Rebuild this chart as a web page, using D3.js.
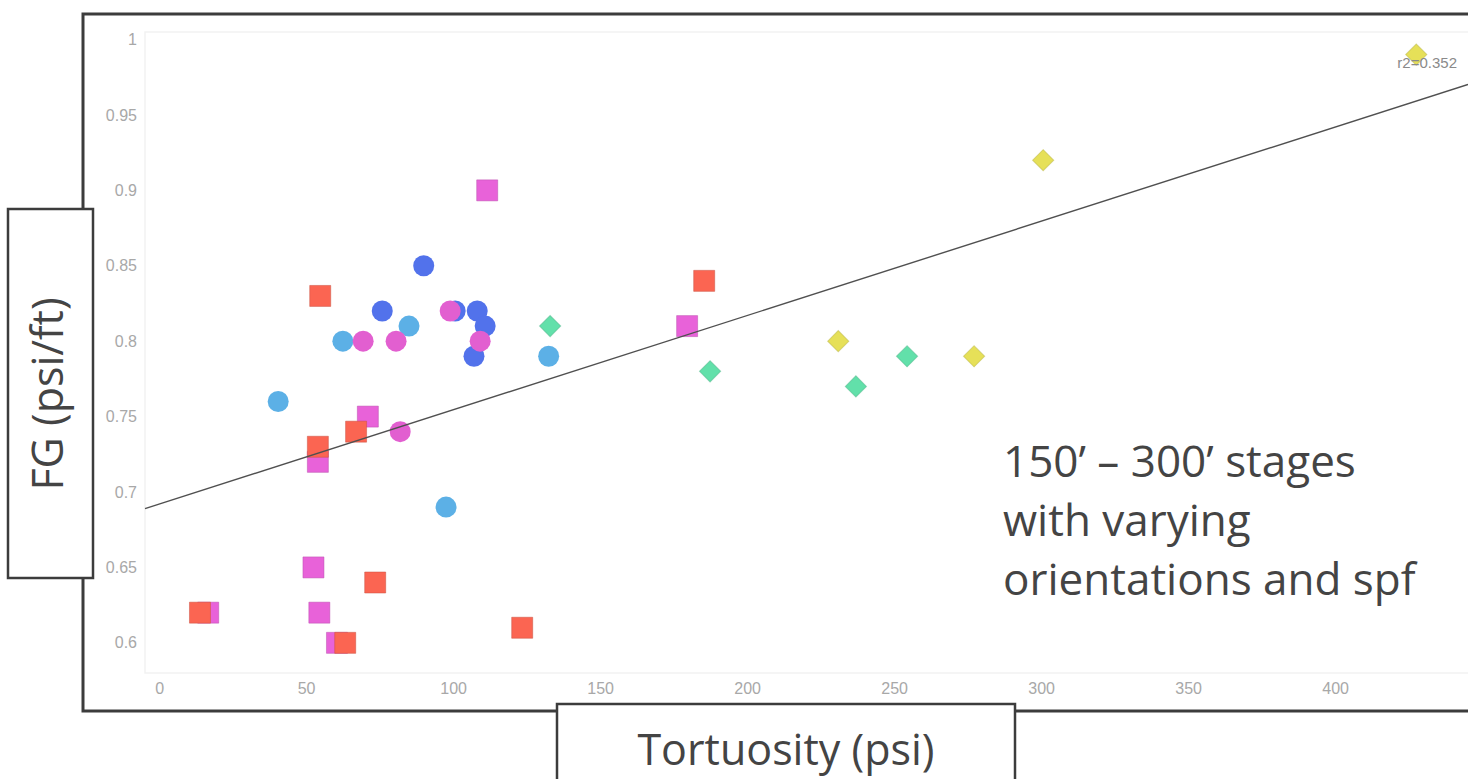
<html><head>
<script src="https://cdnjs.cloudflare.com/ajax/libs/d3/7.8.5/d3.min.js"></script>
<style>
body {
    margin: 0;
    background: white;
    overflow: hidden;
}
.tick text {
    font-family: "Liberation Sans", Arial, sans-serif;
    font-size: 16px;
    fill: #a8a8a8;
}
.title {
    font-family: "Open Sans", sans-serif;
    font-size: 43px;
    fill: #444;
}
.note {
    font-family: "Open Sans", sans-serif;
    font-size: 44px;
    fill: #444;
}
</style>
</head>
<body>
<div id="chart"></div>

<script>
// tick labels
const xTicks = [0, 50, 100, 150, 200, 250, 300, 350, 400];
const yTicks = [0.6, 0.65, 0.7, 0.75, 0.8, 0.85, 0.9, 0.95, 1];

// series: [tortuosity, FG]
const lightBlueCircles = [[40.5, 0.76], [62.5, 0.80], [85, 0.81], [97.6, 0.69], [132.5, 0.79]];
const blueCircles = [[90, 0.85], [75.9, 0.82], [100.7, 0.82], [108.2, 0.82], [110.9, 0.81], [107.1, 0.79]];
const pinkCircles = [[69.4, 0.80], [80.6, 0.80], [82, 0.74], [99, 0.82], [109.2, 0.80]];
const pinkSquares = [[111.6, 0.90], [179.6, 0.81], [71, 0.75], [54, 0.72], [52.5, 0.65], [54.5, 0.62], [60.5, 0.60], [16.7, 0.62]];
const redSquares = [[54.8, 0.83], [185.4, 0.84], [54, 0.73], [67, 0.74], [73.5, 0.64], [123.5, 0.61], [13.9, 0.62], [63.3, 0.60]];
const greenDiamonds = [[133, 0.81], [187.4, 0.78], [237, 0.77], [254.4, 0.79]];
const yellowDiamonds = [[231, 0.80], [277.2, 0.79], [300.7, 0.92], [427.6, 0.99]];

// trend line
const trendSlope = 0.000625;
const trendIntercept = 0.692;
const r2Label = "r2=0.352";

const noteLines = ["150\u2019 \u2013 300\u2019 stages", "with varying", "orientations and spf"];

const width = 1468;
const height = 779;

const svg = d3.select("#chart")
    .append("svg")
    .attr("width", width)
    .attr("height", height);

const x = d3.scaleLinear()
    .domain([-4.8, 445.2])
    .range([145, 1468]);

const y = d3.scaleLinear()
    .domain([0.58, 1.005])
    .range([673, 32]);

// outer frame
svg.append("rect")
    .attr("x", 83)
    .attr("y", 14)
    .attr("width", 1400)
    .attr("height", 697)
    .attr("fill", "white")
    .attr("stroke", "#3c3c3c")
    .attr("stroke-width", 3);

// faint plot area border
svg.append("rect")
    .attr("x", 145)
    .attr("y", 32)
    .attr("width", 1340)
    .attr("height", 641)
    .attr("fill", "none")
    .attr("stroke", "#f2f2f2")
    .attr("stroke-width", 1.5);

// axes
const xAxis = svg.append("g")
    .attr("transform", "translate(0,673)")
    .call(d3.axisBottom(x).tickValues(xTicks).tickSize(0).tickPadding(10));
xAxis.select(".domain").remove();

const yAxis = svg.append("g")
    .attr("transform", "translate(145,0)")
    .call(d3.axisLeft(y).tickValues(yTicks).tickSize(0).tickPadding(8).tickFormat(d3.format("~g")));
yAxis.select(".domain").remove();

svg.selectAll(".tick text")
    .attr("font-family", null)
    .attr("font-size", null);

// markers
function circles(data, color) {
    svg.append("g").selectAll("circle")
        .data(data)
        .join("circle")
        .attr("cx", d => x(d[0]))
        .attr("cy", d => y(d[1]))
        .attr("r", 10.5)
        .attr("fill", color);
}

function squares(data, color, size, angle) {
    svg.append("g").selectAll("path")
        .data(data)
        .join("path")
        .attr("d", d3.symbol(d3.symbolSquare, size))
        .attr("transform", d => `translate(${x(d[0])},${y(d[1])}) rotate(${angle})`)
        .attr("fill", color)
        .attr("stroke", d3.color(color).darker(0.6))
        .attr("stroke-opacity", 0.5)
        .attr("stroke-width", 1);
}

circles(lightBlueCircles, "#5cb0e6");
circles(blueCircles, "#5272eb");
circles(pinkCircles, "#e25fd0");
squares(pinkSquares, "#e862d9", 441, 0);
squares(redSquares, "#fb6552", 441, 0);
squares(greenDiamonds, "#62e0aa", 225, 45);
squares(yellowDiamonds, "#e6e058", 225, 45);

// trend line
const xd = x.domain();
svg.append("line")
    .attr("x1", x(xd[0]))
    .attr("y1", y(trendIntercept + trendSlope * xd[0]))
    .attr("x2", x(xd[1]))
    .attr("y2", y(trendIntercept + trendSlope * xd[1]))
    .attr("stroke", "#505050")
    .attr("stroke-width", 1.4);

svg.append("text")
    .attr("x", 1457)
    .attr("y", 68)
    .attr("text-anchor", "end")
    .attr("font-family", "Liberation Sans, Arial, sans-serif")
    .attr("font-size", 15)
    .attr("fill", "#8a8a8a")
    .text(r2Label);

// annotation
svg.append("g").selectAll("text")
    .data(noteLines)
    .join("text")
    .attr("class", "note")
    .attr("x", 1003)
    .attr("y", (d, i) => 477 + i * 59)
    .text(d => d);

// axis title boxes
svg.append("rect")
    .attr("x", 8)
    .attr("y", 209)
    .attr("width", 85)
    .attr("height", 369)
    .attr("fill", "white")
    .attr("stroke", "#3c3c3c")
    .attr("stroke-width", 2.5);

svg.append("text")
    .attr("class", "title")
    .attr("transform", "translate(63,394) rotate(-90)")
    .attr("text-anchor", "middle")
    .text("FG (psi/ft)");

svg.append("rect")
    .attr("x", 557)
    .attr("y", 704)
    .attr("width", 458)
    .attr("height", 120)
    .attr("fill", "white")
    .attr("stroke", "#3c3c3c")
    .attr("stroke-width", 2.5);

svg.append("text")
    .attr("class", "title")
    .attr("x", 786)
    .attr("y", 765)
    .attr("text-anchor", "middle")
    .text("Tortuosity (psi)");
</script>
</body></html>
